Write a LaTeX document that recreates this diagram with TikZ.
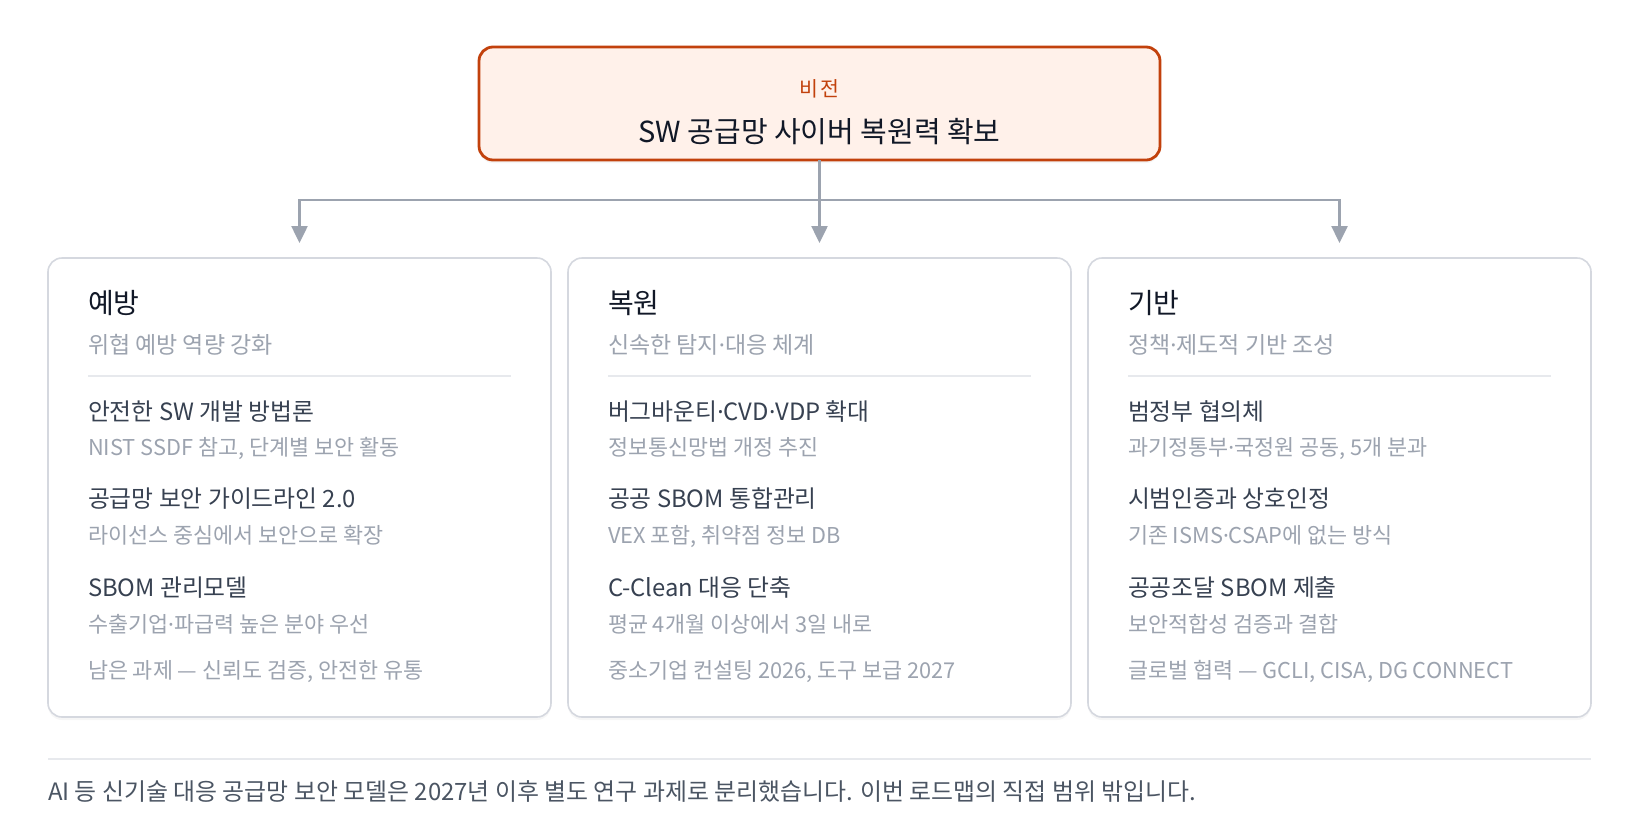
\documentclass[tikz,border=0pt]{standalone}
\usepackage{fontspec}
\setmainfont{Noto Sans CJK KR}
\newfontfamily\dotfont{Noto Sans}
\usepackage{xcolor}
\usetikzlibrary{arrows.meta,shadows}

\newcommand\kdot{{\dotfont ·}}

\definecolor{visionline}{HTML}{C2410C}
\definecolor{visionfill}{HTML}{FFF1EA}
\definecolor{cardline}{HTML}{D5D8DF}
\definecolor{rulegray}{HTML}{E7E9ED}
\definecolor{connline}{HTML}{9CA3AF}
\definecolor{ink}{HTML}{111827}
\definecolor{itemink}{HTML}{374151}
\definecolor{muted}{HTML}{9CA3AF}
\definecolor{footink}{HTML}{4B5563}

\tikzset{
  visionbox/.style={draw=visionline, line width=2.8pt, fill=visionfill, rounded corners=14pt,
    minimum width=681pt, minimum height=113pt, inner sep=0pt, outer sep=0pt,
    drop shadow={opacity=0.08, shadow xshift=0pt, shadow yshift=-3pt}},
  card/.style={draw=cardline, line width=1.6pt, fill=white, rounded corners=14pt,
    minimum width=503pt, minimum height=459pt, inner sep=0pt, outer sep=0pt,
    drop shadow={opacity=0.07, shadow xshift=0pt, shadow yshift=-3pt}},
  conn/.style={draw=connline, line width=2.5pt, -{Triangle[width=16pt,length=17pt]}},
  seprule/.style={draw=rulegray, line width=1.5pt},
  txt/.style={anchor=base west, inner sep=0pt, outer sep=0pt},
  visionlabel/.style={anchor=base, inner sep=0pt, text=visionline, font=\fontsize{20.5}{24}\selectfont},
  visiontitle/.style={anchor=base, inner sep=0pt, text=ink, font=\fontsize{29}{33}\selectfont},
  cardtitle/.style={txt, text=ink, font=\fontsize{28}{32}\selectfont},
  cardsub/.style={txt, text=muted, font=\fontsize{23}{27}\selectfont},
  itemtitle/.style={txt, text=itemink, font=\fontsize{23.8}{27}\selectfont},
  itemsub/.style={txt, text=muted, font=\fontsize{21.8}{25}\selectfont},
  footnote/.style={txt, text=footink, font=\fontsize{23.9}{27}\selectfont}
}

\begin{document}
\begin{tikzpicture}[x=1pt,y=-1pt]
\useasboundingbox[fill=white] (0,0) rectangle (1640,820);

\node[visionbox] (vision) at (819.5,103.5) {};
\node[visionlabel] (visionL) at (819.5,96) {비\kern2pt 전};
\node[visiontitle] (visionT) at (819.5,142) {SW 공급망 사이버 복원력 확보};

\node[card] (prev) at (299.5,487.5) {};
\node[card] (recov) at (819.5,487.5) {};
\node[card] (base) at (1339.5,487.5) {};

\coordinate (hub) at (819.5,200);
\draw[conn] (vision.south) -- ([yshift=15pt]recov.north);
\draw[conn] (hub) -| ([yshift=15pt]prev.north);
\draw[conn] (hub) -| ([yshift=15pt]base.north);

\node[cardtitle] (prevT) at (88,313) {예방};
\node[cardsub] (prevS) at (88,353) {위협 예방 역량 강화};
\draw[seprule] (88,376) -- (511,376);
\node[itemtitle] (prevA) at (88,420) {안전한 SW 개발 방법론};
\node[itemsub] (prevAs) at (88,455) {NIST SSDF 참고, 단계별 보안 활동};
\node[itemtitle] (prevB) at (88,507) {공급망 보안 가이드라인 2.0};
\node[itemsub] (prevBs) at (88,543) {라이선스 중심에서 보안으로 확장};
\node[itemtitle] (prevC) at (88,596) {SBOM 관리모델};
\node[itemsub] (prevCs) at (88,632) {수출기업\kdot 파급력 높은 분야 우선};
\node[itemsub] (prevN) at (88,678) {남은 과제 — 신뢰도 검증, 안전한 유통};

\node[cardtitle] (recovT) at (608,313) {복원};
\node[cardsub] (recovS) at (608,353) {신속한 탐지\kdot 대응 체계};
\draw[seprule] (608,376) -- (1031,376);
\node[itemtitle] (recovA) at (608,420) {버그바운티\kdot CVD\kdot VDP 확대};
\node[itemsub] (recovAs) at (608,455) {정보통신망법 개정 추진};
\node[itemtitle] (recovB) at (608,507) {공공 SBOM 통합관리};
\node[itemsub] (recovBs) at (608,543) {VEX 포함, 취약점 정보 DB};
\node[itemtitle] (recovC) at (608,596) {C-Clean 대응 단축};
\node[itemsub] (recovCs) at (608,632) {평균 4개월 이상에서 3일 내로};
\node[itemsub] (recovN) at (608,678) {중소기업 컨설팅 2026, 도구 보급 2027};

\node[cardtitle] (baseT) at (1128,313) {기반};
\node[cardsub] (baseS) at (1128,353) {정책\kdot 제도적 기반 조성};
\draw[seprule] (1128,376) -- (1551,376);
\node[itemtitle] (baseA) at (1128,420) {범정부 협의체};
\node[itemsub] (baseAs) at (1128,455) {과기정통부\kdot 국정원 공동, 5개 분과};
\node[itemtitle] (baseB) at (1128,507) {시범인증과 상호인정};
\node[itemsub] (baseBs) at (1128,543) {기존 ISMS\kdot CSAP에 없는 방식};
\node[itemtitle] (baseC) at (1128,596) {공공조달 SBOM 제출};
\node[itemsub] (baseCs) at (1128,632) {보안적합성 검증과 결합};
\node[itemsub] (baseN) at (1128,678) {글로벌 협력 — GCLI, CISA, DG CONNECT};

\draw[seprule] (48,759) -- (1591,759);
\node[footnote] (foot) at (48,800) {AI 등 신기술 대응 공급망 보안 모델은 2027년 이후 별도 연구 과제로 분리했습니다. 이번 로드맵의 직접 범위 밖입니다.};
\end{tikzpicture}
\end{document}
